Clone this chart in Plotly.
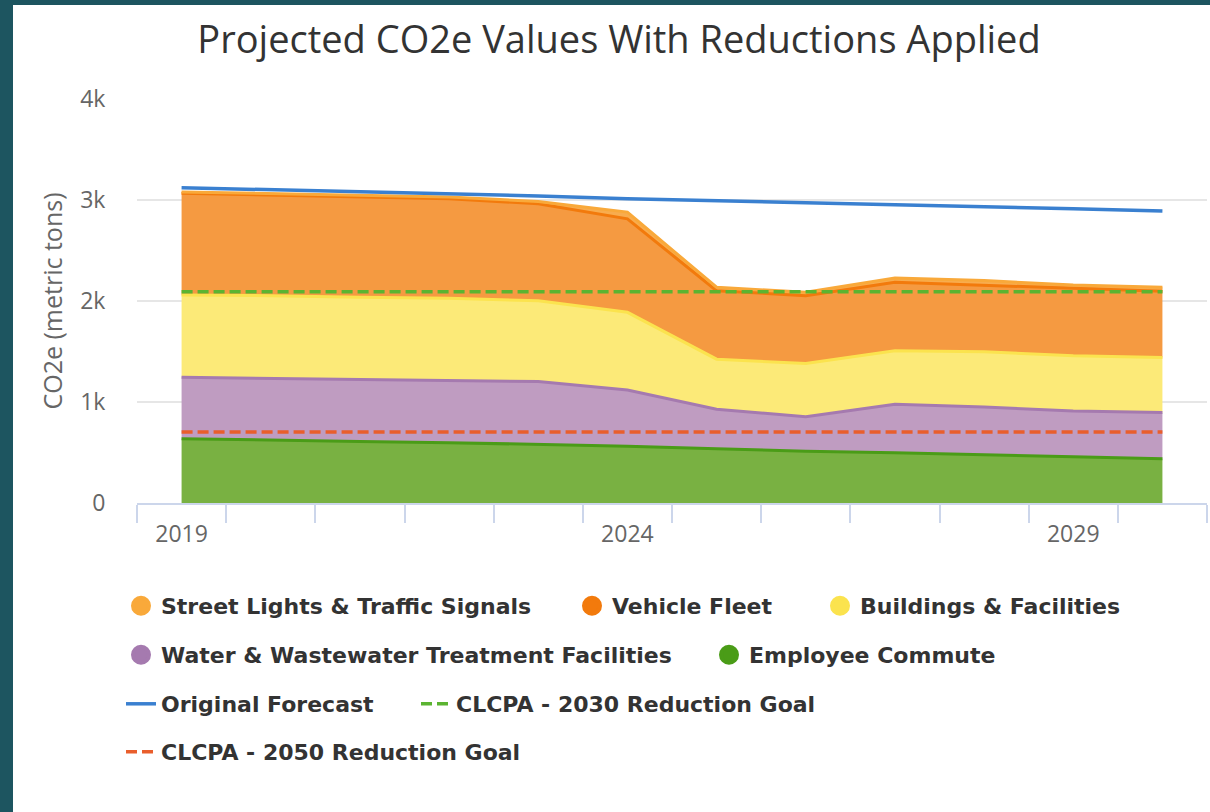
import plotly.graph_objects as go

years = [2019, 2020, 2021, 2022, 2023, 2024, 2025, 2026, 2027, 2028, 2029, 2030]

street_lights = [14, 15, 15, 17, 23, 67, 34, 33, 42, 43, 33, 40]
vehicle_fleet = [1007, 995, 993, 986, 960, 925, 678, 672, 679, 662, 669, 655]
buildings = [814, 818, 812, 812, 801, 769, 496, 526, 530, 547, 546, 546]
water = [609, 609, 615, 618, 622, 556, 391, 342, 480, 469, 453, 457]
employee = [636, 626, 610, 597, 580, 563, 537, 513, 497, 481, 458, 438]

original_forecast = [3122, 3102, 3079, 3066, 3040, 3013, 2990, 2973, 2953, 2937, 2914, 2891]
goal_2030 = [2092] * 12
goal_2050 = [702] * 12

y_tickvals = [0, 1000, 2000, 3000, 4000]
y_ticktext = ["0", "1k", "2k", "3k", "4k"]
x_labels = [2019, 2024, 2029]

FONT = "Open Sans"
LEG_FONT = "DejaVu Sans"

# plot-area geometry in pixels
W, H = 1210, 812
L, R, T, B = 137, 1207, 99, 503


def px_x(px):
    return (px - L) / (R - L)


def px_y(py):
    return (B - py) / (B - T)


fig = go.Figure()

# stacked areas (bottom first)
areas = [
    ("Employee Commute", employee, "#4A9C17", "#79B142"),
    ("Water & Wastewater Treatment Facilities", water, "#A57AAF", "#BF9CC1"),
    ("Buildings & Facilities", buildings, "#FBE34E", "#FCEA78"),
    ("Vehicle Fleet", vehicle_fleet, "#F27A0C", "#F59A41"),
    ("Street Lights & Traffic Signals", street_lights, "#F9A93A", "#F8AC4E"),
]
for name, vals, lc, fc in areas:
    fig.add_trace(go.Scatter(
        x=years, y=vals, name=name, stackgroup="one", mode="lines",
        line=dict(color=lc, width=3), fillcolor=fc, showlegend=False,
    ))

# legend entries (circles) in legend order
legend_circles = [
    ("Street Lights & Traffic Signals", "#F9A93A", "legend"),
    ("Vehicle Fleet", "#F27A0C", "legend2"),
    ("Buildings & Facilities", "#FBE34E", "legend3"),
    ("Water & Wastewater Treatment Facilities", "#A57AAF", "legend4"),
    ("Employee Commute", "#4A9C17", "legend5"),
]
for name, c, lg in legend_circles:
    fig.add_trace(go.Scatter(
        x=[None], y=[None], mode="markers", name=name, legend=lg,
        marker=dict(size=16, color=c, line=dict(color=c, width=4)),
    ))

fig.add_trace(go.Scatter(
    x=years, y=original_forecast, name="Original Forecast", mode="lines",
    line=dict(color="#3A80D0", width=3.5), legend="legend6",
))
fig.add_trace(go.Scatter(
    x=years, y=goal_2030, name="CLCPA - 2030 Reduction Goal", mode="lines",
    line=dict(color="#5BB431", width=3.5, dash="11px,5px"), legend="legend7",
))
fig.add_trace(go.Scatter(
    x=years, y=goal_2050, name="CLCPA - 2050 Reduction Goal", mode="lines",
    line=dict(color="#E95E2C", width=3.5, dash="11px,5px"), legend="legend8",
))

legend_font = dict(family=LEG_FONT, size=22, color="#333333", weight="bold")
positions = {
    "legend": (121, 606), "legend2": (572, 606), "legend3": (820, 606),
    "legend4": (121, 655), "legend5": (709, 655),
    "legend6": (121, 704), "legend7": (416, 704),
    "legend8": (121, 752),
}
legend_layout = {}
for key, (lx, ly) in positions.items():
    legend_layout[key] = dict(
        x=px_x(lx), y=px_y(ly), xanchor="left", yanchor="middle",
        orientation="h", bgcolor="rgba(0,0,0,0)", borderwidth=0,
        font=legend_font, itemclick=False, itemdoubleclick=False,
    )

fig.update_layout(
    width=W, height=H,
    margin=dict(l=L, r=W - R, t=T, b=H - B, autoexpand=False),
    paper_bgcolor="#1D5560",
    plot_bgcolor="white",
    title=dict(
        text="Projected CO2e Values With Reductions Applied",
        x=619 / W, xref="container", xanchor="center",
        y=1 - 40 / H, yref="container", yanchor="middle",
        font=dict(family=FONT, size=38, color="#333333"),
    ),
    xaxis=dict(
        range=[2018.5, 2030.5], tickvals=x_labels, ticktext=[str(v) for v in x_labels],
        ticks="outside", ticklen=9, tickcolor="rgba(0,0,0,0)",
        showgrid=False, zeroline=False,
        showline=True, linecolor="#ccd6eb", linewidth=2,
        tickfont=dict(family=FONT, size=23, color="#666666"),
        minor=dict(tick0=2018.5, dtick=1, ticks="outside", ticklen=18,
                   tickcolor="#ccd6eb", tickwidth=2, showgrid=False),
        fixedrange=True,
    ),
    yaxis=dict(
        range=[0, 4000], tickvals=y_tickvals, ticktext=y_ticktext,
        ticks="outside", ticklen=26, tickcolor="rgba(0,0,0,0)",
        showgrid=True, gridcolor="#e6e6e6", gridwidth=2, zeroline=False,
        tickfont=dict(family=FONT, size=23, color="#666666"),
        title=dict(text="CO2e (metric tons)", standoff=10,
                   font=dict(family=FONT, size=25, color="#666666")),
        fixedrange=True,
    ),
    shapes=[dict(type="rect", xref="paper", yref="paper", layer="below",
                 x0=px_x(13), x1=px_x(W + 5), y0=px_y(H + 5), y1=px_y(5),
                 fillcolor="white", line=dict(width=0))],
    hovermode=False,
    **legend_layout,
)

fig.write_html(
    "out.html",
    config={"displayModeBar": False},
    post_script="document.body.style.margin='0';document.body.style.background='#1D5560';",
)
